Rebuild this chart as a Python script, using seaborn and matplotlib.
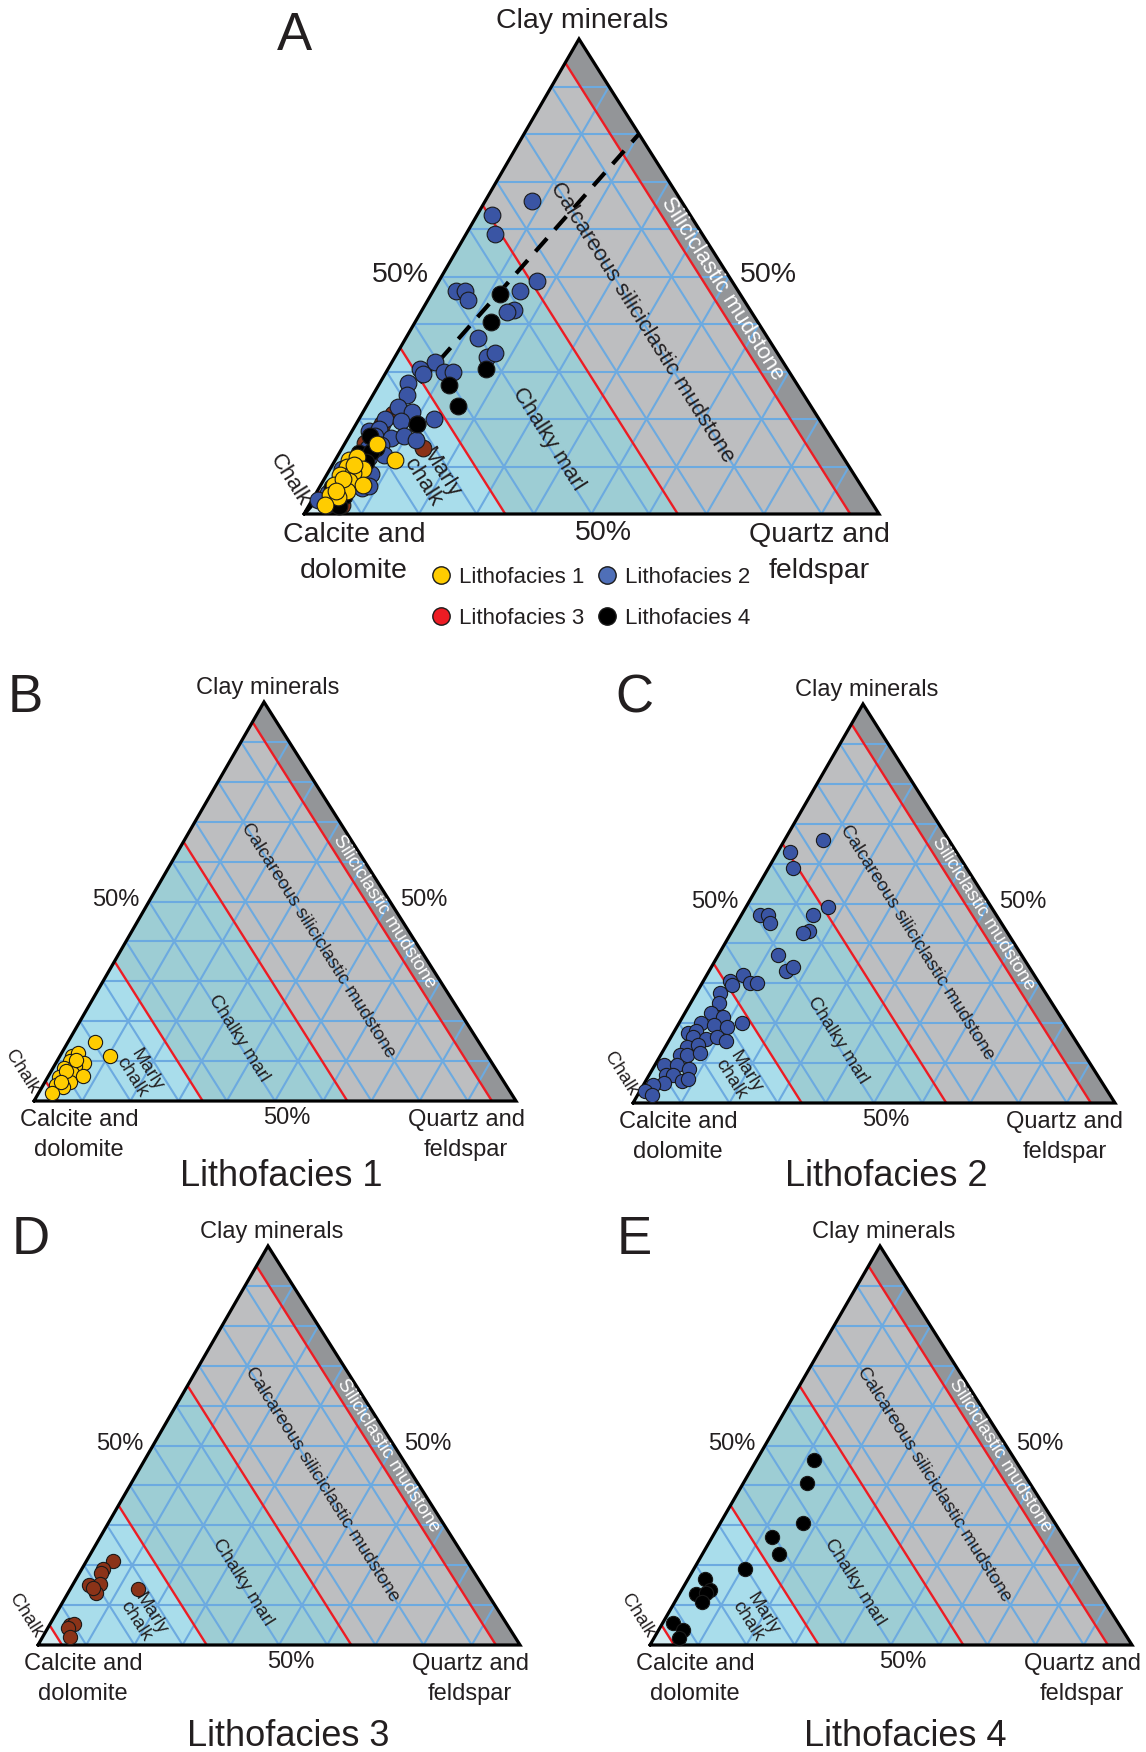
import numpy as np
import pandas as pd
import matplotlib
matplotlib.use("Agg")
import matplotlib.pyplot as plt
import seaborn as sns
from matplotlib.lines import Line2D

sns.set_theme(style="white")
plt.rcParams['font.family'] = ['Liberation Sans', 'DejaVu Sans']

# ---------------- data (wt %, carbonate = 100 - clay - quartz) ----------------
lf1_clay = [14.7, 11.4, 11.4, 12.0, 10.0, 9.5, 8.2, 8.7, 6.9, 6.1, 4.8, 6.2, 3.9, 3.5, 1.9, 7.4, 4.8, 10.4]
lf1_quartz = [5.6, 10.3, 2.4, 3.5, 2.7, 5.8, 2.4, 4.4, 4.5, 2.3, 5.1, 7.3, 2.6, 4.3, 2.8, 3.2, 3.3, 3.8]

lf2_clay = [66, 63, 59, 49, 47, 43, 42.5, 47, 47, 45, 37, 33, 34, 32, 30.5, 29.5, 30, 30,
            27.5, 25, 20, 22.5, 21.5, 20, 19.5, 19, 17.5, 18, 16.5, 16, 16.5, 15.5, 14, 14.5,
            12, 12, 12.5, 9.5, 9.5, 8.5, 7, 7, 5.5, 6, 5, 4.5, 3, 2]
lf2_quartz = [8, 2.5, 5, 17, 15, 16, 15, 4, 5.5, 7, 12.5, 16, 17, 7.5, 5.5, 6.5, 10, 11.5,
              5, 6, 13, 5.5, 8.5, 4.5, 7.5, 10.5, 3, 4.5, 4.5, 7.5, 9.5, 12, 4.5, 6.5,
              4, 5.5, 8, 2, 4.5, 7.5, 3.5, 5, 7.5, 8.5, 4, 2, 1, 3]

lf3_clay = [21, 19, 18, 15, 15.3, 13, 14.2, 14, 5, 5.3, 4.2, 2]
lf3_quartz = [5.5, 4.4, 4.4, 3.4, 5.6, 5.8, 4.6, 14, 4.2, 5, 4.3, 5.6]

lf4_clay = [46.4, 40.5, 30.6, 27.1, 22.8, 19, 16.5, 13.8, 12.8, 13.1, 10.9, 5.6, 3.8, 1.7]
lf4_quartz = [11.9, 13.2, 17.1, 12.3, 15.9, 10.6, 3.5, 5.9, 3.4, 5.4, 5.5, 2.2, 5.1, 5.3]

facies_names = ["Lithofacies 1", "Lithofacies 2", "Lithofacies 3", "Lithofacies 4"]
facies_fill = ["#ffcc00", "#3a55a4", "#8b3318", "#000000"]
legend_fill = ["#ffcc00", "#4f6fb8", "#ed1c24", "#000000"]

# carbonate class boundaries (%) and region colours
boundaries = [95, 65, 35, 5]
region_colors = ["#d3ecf2", "#a9ddeb", "#9dcdd4", "#bdbec0", "#939598"]

corner_labels = ["Clay minerals", "Calcite and\ndolomite", "Quartz and\nfeldspar"]

# ---------------- layout (pixels) ----------------
W, H = 1146, 1752
fig = plt.figure(figsize=(W / 100, H / 100), dpi=100)
fig.patch.set_facecolor("white")
TXT = "#231f20"

panels = {
    "A": dict(bl=(304, 514), br=879, apex=(579, 39), big=True),
    "B": dict(bl=(34, 1101), br=516, apex=(264, 702), big=False),
    "C": dict(bl=(633, 1103), br=1115, apex=(863, 704), big=False),
    "D": dict(bl=(38, 1645), br=520, apex=(268, 1246), big=False),
    "E": dict(bl=(650, 1645), br=1132, apex=(880, 1246), big=False),
}


def make_ax(p):
    bx, by = p["bl"]
    ax_ = fig.add_axes([bx / W, 1 - by / H, (p["br"] - bx) / W, (by - p["apex"][1]) / H])
    ax_.set_xlim(0, 1)
    ax_.set_ylim(0, 1)
    ax_.axis("off")
    a = (p["apex"][0] - bx) / (p["br"] - bx)
    ang = np.degrees(np.arctan2(-(by - p["apex"][1]), p["br"] - p["apex"][0]))
    return ax_, a, ang


def tern(clay, quartz, a):
    clay = np.asarray(clay, float) / 100.0
    quartz = np.asarray(quartz, float) / 100.0
    return quartz + a * clay, clay


def carb_line(c, a):
    x1, y1 = tern(0, 100 - c, a)
    x2, y2 = tern(100 - c, 0, a)
    return [x1, x2], [y1, y2]


def draw_base(ax, a, ang, big):
    # regions between carbonate boundaries
    edges = [100] + boundaries + [0]
    for i, col in enumerate(region_colors):
        hi, lo = edges[i], edges[i + 1]
        if hi == 100:
            pts = [tern(0, 0, a)]
        else:
            pts = [tern(0, 100 - hi, a), tern(100 - hi, 0, a)]
        pts += [tern(100 - lo, 0, a), tern(0, 100 - lo, a)]
        ax.fill([p[0] for p in pts], [p[1] for p in pts], color=col, lw=0, zorder=1)
    # grid
    gcol = "#6caae0"
    for k in range(10, 100, 10):
        for seg in ([tern(k, 0, a), tern(k, 100 - k, a)],
                    [tern(0, k, a), tern(100 - k, k, a)],
                    [tern(0, 100 - k, a), tern(100 - k, 0, a)]):
            ax.plot([seg[0][0], seg[1][0]], [seg[0][1], seg[1][1]], color=gcol, lw=1.5, zorder=2,
                    solid_capstyle="butt")
    # red boundaries
    for c in boundaries:
        xs, ys = carb_line(c, a)
        ax.plot(xs, ys, color="#ed1c24", lw=1.7, zorder=3, solid_capstyle="butt")
    # frame
    tx, ty = tern([0, 0, 100, 0], [0, 100, 0, 0], a)
    ax.plot(tx, ty, color="black", lw=2.3, zorder=6, solid_joinstyle="miter", clip_on=False)

    fs_v = 20.5 if big else 17
    fs_i = 16 if big else 13.5
    ls_v = 1.48 if big else 1.42
    off = dict(clay=(3, 18), calc=(50, -39), qz=(-60, -39)) if big else \
        dict(clay=(4, 14), calc=(45, -34), qz=(-50, -34))
    ax.annotate(corner_labels[0], tern(100, 0, a), xytext=off["clay"], textcoords="offset pixels",
                ha="center", va="center", fontsize=fs_v, color=TXT, annotation_clip=False)
    ax.annotate(corner_labels[1], tern(0, 0, a), xytext=off["calc"], textcoords="offset pixels",
                ha="center", va="center", fontsize=fs_v, color=TXT, linespacing=ls_v,
                annotation_clip=False)
    ax.annotate(corner_labels[2], tern(0, 100, a), xytext=off["qz"], textcoords="offset pixels",
                ha="center", va="center", fontsize=fs_v, color=TXT, linespacing=ls_v,
                annotation_clip=False)
    o50 = [(-41, 2), (39, 2), (12, -19)] if big else [(-33, 2), (34, 2), (12, -17)]
    for (cl, qz), o in zip([(50, 0), (50, 50), (0, 50)], o50):
        ax.annotate("50%", tern(cl, qz, a), xytext=o, textcoords="offset pixels",
                    ha="center", va="center", fontsize=fs_v, color=TXT, annotation_clip=False)
    labs = [("Calcareous siliciclastic mudstone", 40.3, 39.6, TXT),
            ("Siliciclastic mudstone", 47.5, 50.0, "white"),
            ("Chalky marl", 15.7, 34.9, TXT),
            ("Marly\nchalk", 7.6 if big else 6.8, 18.6, TXT),
            ("Chalk", 7.2, -6.0, TXT)]
    for s, cl, qz, col in labs:
        x, y = tern(cl, qz, a)
        ax.text(x, y, s, rotation=ang, rotation_mode="anchor", ha="center", va="center",
                fontsize=fs_i, color=col, zorder=7, multialignment="left", linespacing=1.0,
                clip_on=False)


def scatter(ax, a, clay, quartz, color, size):
    x, y = tern(clay, quartz, a)
    df = pd.DataFrame({"x": x, "y": y})
    sns.scatterplot(data=df, x="x", y="y", color=color, s=size, edgecolor="#1a1a1a",
                    linewidth=0.8, ax=ax, legend=False, zorder=8)
    ax.collections[-1].set_clip_on(False)
    ax.set_xlabel("")
    ax.set_ylabel("")


data = [(lf1_clay, lf1_quartz), (lf2_clay, lf2_quartz), (lf3_clay, lf3_quartz), (lf4_clay, lf4_quartz)]

# ---------------- panel A ----------------
axA, aA, angA = make_ax(panels["A"])
draw_base(axA, aA, angA, True)
dx, dy = tern([0, 80], [0, 20], aA)
axA.plot(dx, dy, color="black", lw=3.0, dashes=(4.2, 2.8), zorder=5)
for i in [2, 1, 3, 0]:
    scatter(axA, aA, data[i][0], data[i][1], facies_fill[i], 145)

# ---------------- panels B-E ----------------
for key, i in zip("BCDE", range(4)):
    ax, a, ang = make_ax(panels[key])
    draw_base(ax, a, ang, False)
    scatter(ax, a, data[i][0], data[i][1], facies_fill[i], 105)

# panel letters
for key, (px, py) in zip("ABCDE", [(294, 36), (25, 698), (634, 698), (31, 1240), (634, 1240)]):
    fig.text(px / W, 1 - py / H, key, ha="center", va="center", fontsize=38, color=TXT)

# subtitles
for name, (px, py) in zip(facies_names, [(281, 1177), (886, 1177), (288, 1737), (905, 1737)]):
    fig.text(px / W, 1 - py / H, name, ha="center", va="center", fontsize=26, color=TXT)

# legend (row-wise: 1 2 / 3 4)
order = [0, 2, 1, 3]
handles = [Line2D([0], [0], marker="o", linestyle="", markersize=12.5, markerfacecolor=legend_fill[i],
                  markeredgecolor="#1a1a1a", markeredgewidth=1.0) for i in order]
leg = fig.legend(handles, [facies_names[i] for i in order], ncol=2, loc="center",
                 bbox_to_anchor=(590 / W, 1 - 598 / H), frameon=False, fontsize=16,
                 handlelength=1.0, handletextpad=0.3, columnspacing=0.5, labelspacing=0.9,
                 borderpad=0)
for t in leg.get_texts():
    t.set_color(TXT)

fig.savefig("out.png", dpi=100, facecolor="white")
